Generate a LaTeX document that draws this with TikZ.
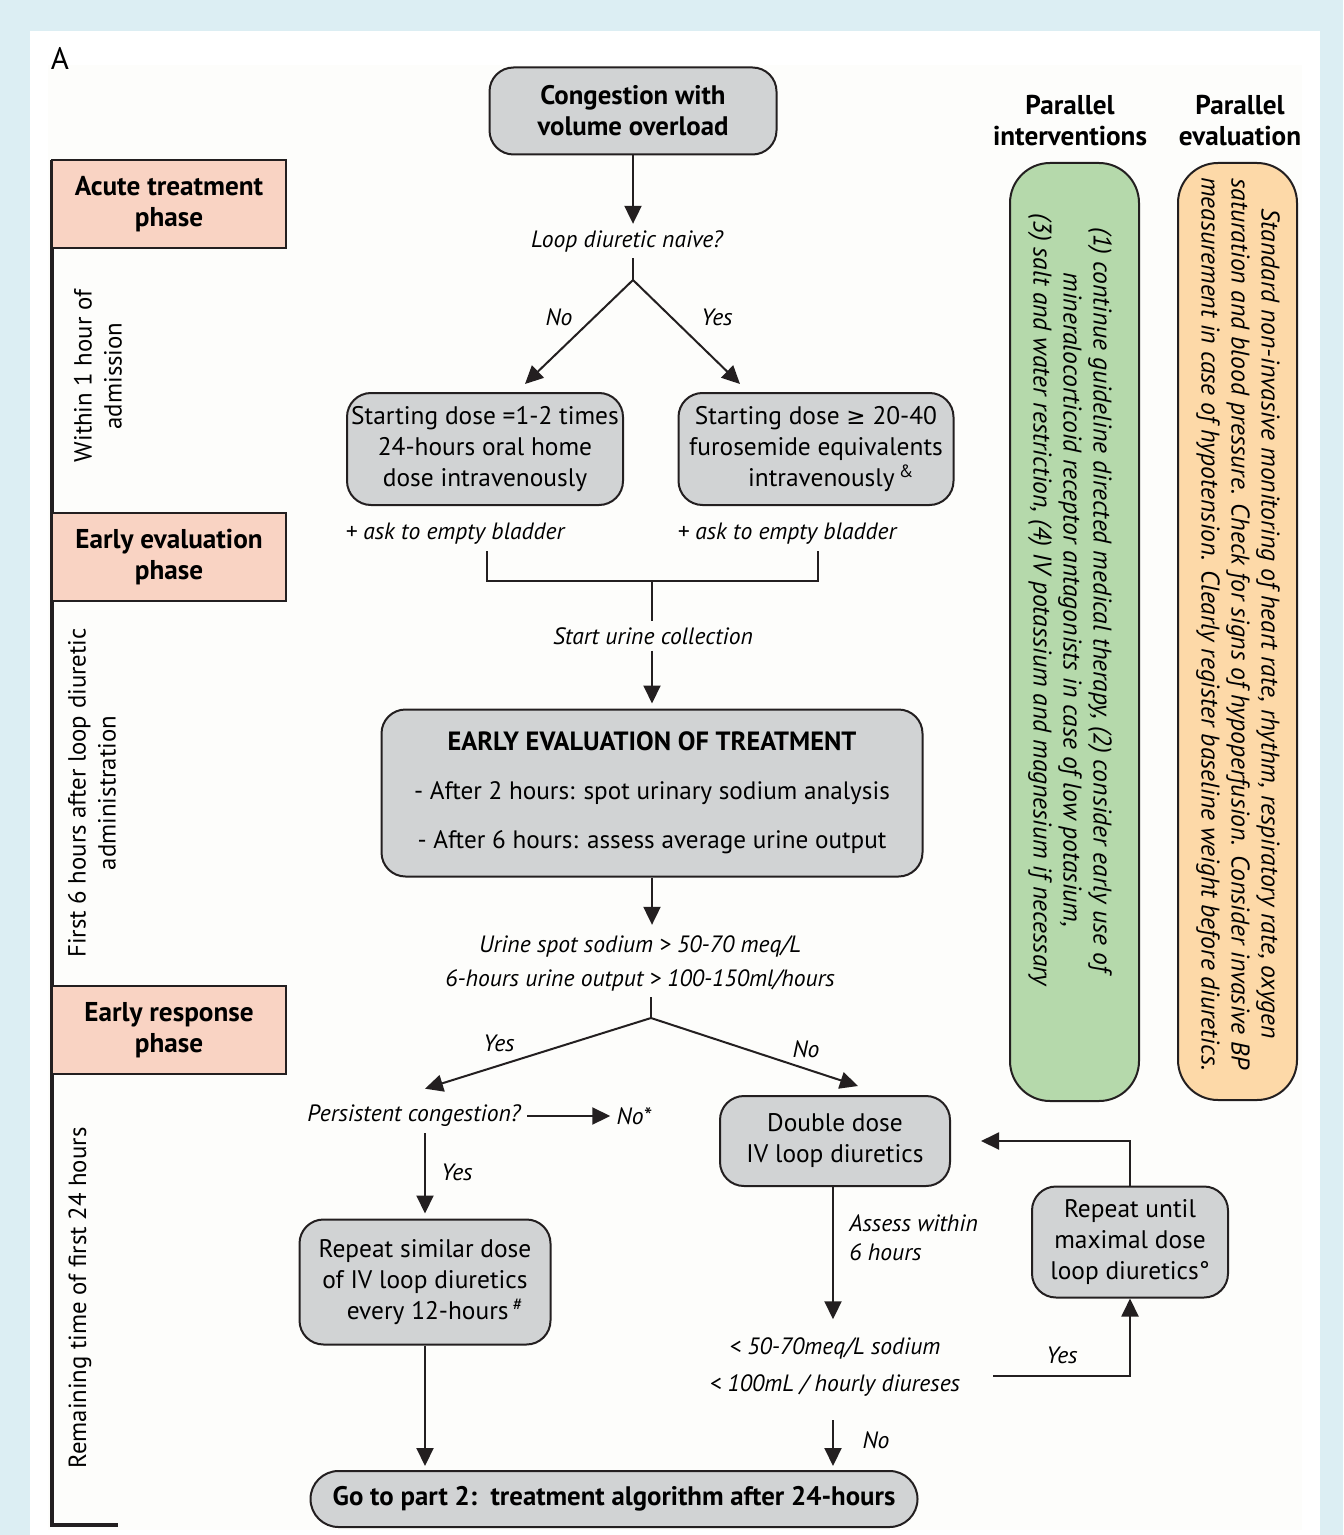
\documentclass[tikz,border=0pt]{standalone}
\usepackage{fontspec}
\setmainfont{PT Sans}
\newfontfamily\symfont{DejaVu Sans}
\usetikzlibrary{arrows.meta}

\definecolor{bgblue}{HTML}{DCEEF3}
\definecolor{offwhite}{HTML}{FDFDFB}
\definecolor{boxgrey}{HTML}{D1D3D4}
\definecolor{phasepink}{HTML}{F9D3C3}
\definecolor{intgreen}{HTML}{B5D9AB}
\definecolor{evalorange}{HTML}{FDD9A8}
\definecolor{ink}{HTML}{231F20}

\tikzset{
  flowbox/.style={draw=ink, line width=1pt, fill=boxgrey, rounded corners=12pt,
    align=center, inner sep=2pt, font=\fontsize{12.7}{15.5}\selectfont},
  phasebox/.style={draw=ink, line width=1pt, fill=phasepink, minimum width=117pt,
    minimum height=44pt, align=center, font=\bfseries\fontsize{13.6}{15.5}\selectfont},
  header/.style={align=center, font=\bfseries\fontsize{13.6}{15.5}\selectfont},
  note/.style={align=center, inner sep=3pt, font=\itshape\fontsize{11.8}{17}\selectfont},
  timelabel/.style={rotate=90, align=center, font=\fontsize{12.4}{15}\selectfont},
  sidebox/.style={draw=ink, line width=1pt, rounded corners=20pt},
  sidetext/.style={rotate=-90, align=center, font=\itshape\fontsize{12.8}{15}\selectfont},
  link/.style={draw=ink, line width=1pt},
  flow/.style={link, -{Triangle[length=9pt,width=8.5pt]}},
}

\begin{document}
\begin{tikzpicture}[x=0.5pt, y=-0.5pt] % one unit = one pixel, y runs down
  \useasboundingbox (0,0) rectangle (1343,1535);

  % Panel
  \fill[bgblue] (0,0) rectangle (1343,1535);
  \fill[white] (30,31) rectangle (1320,1535);
  \fill[offwhite] (48,65) rectangle (1302,1530);
  \node[font=\fontsize{15.5}{18}\selectfont] (panel) at (60,58) {A};

  % Time line and phases
  \draw[ink, line width=2pt] (52,160) -- (52,1525) -- (118,1525);
  \node[phasebox] (acute) at (169,204) {Acute treatment\\phase};
  \node[phasebox] (earlyeval) at (169,557) {Early evaluation\\phase};
  \node[phasebox] (earlyresp) at (169,1030) {Early response\\phase};
  \node[timelabel] (within) at (98,376) {Within 1 hour of\\admission};
  \node[timelabel] (first) at (92,793) {First 6 hours after loop diuretic\\administration};
  \node[timelabel] (remain) at (80,1298) {Remaining time of first 24 hours};

  % Boxes
  \node[flowbox, font=\bfseries\fontsize{13.4}{15.5}\selectfont,
        minimum width=143.5pt, minimum height=43.5pt] (start) at (633,111)
        {Congestion with\\volume overload};
  \node[flowbox, minimum width=138pt, minimum height=56pt] (dosel) at (485,449)
        {Starting dose =1-2 times\\24-hours oral home\\dose intravenously};
  \node[flowbox, minimum width=137.5pt, minimum height=56pt] (doser) at (816,449)
        {Starting dose {\symfont\fontsize{11.5}{15}\selectfont ≥} 20-40\\furosemide equivalents\\\hspace{1.2em}intravenously\,\textsuperscript{\&}};
  \node[flowbox, font=\fontsize{12.6}{24.5}\selectfont,
        minimum width=270.5pt, minimum height=83.5pt] (evalbox) at (652,793)
        {{\bfseries\fontsize{13.2}{24.5}\selectfont EARLY EVALUATION OF TREATMENT}\\- After 2 hours: spot urinary sodium analysis\\- After 6 hours: assess average urine output};
  \node[flowbox, minimum width=125.5pt, minimum height=62.5pt] (repeat) at (425,1282)
        {Repeat similar dose\\of IV loop diuretics\\\hspace{0.8em}every 12-hours\,\textsuperscript{\#}};
  \node[flowbox, minimum width=115pt, minimum height=45pt] (double) at (835,1141)
        {Double dose\\IV loop diuretics};
  \node[flowbox, minimum width=98pt, minimum height=55.5pt] (maxdose) at (1130,1242)
        {Repeat until\\maximal dose\\loop diuretics°};
  \node[flowbox, rounded corners=14pt, font=\bfseries\fontsize{13.4}{15.5}\selectfont,
        minimum width=303.5pt, minimum height=28pt] (goto) at (614,1499)
        {Go to part 2:\ \ treatment algorithm after 24-hours};

  % Questions and notes
  \node[note] (naive) at (627,241) {Loop diuretic naive?};
  \node[note] (bladl) at (455,534) {+ ask to empty bladder};
  \node[note] (bladr) at (787,534) {+ ask to empty bladder};
  \node[note] (collect) at (653,636) {Start urine collection};
  \node[note] (crit) at (640,963) {Urine spot sodium > 50-70 meq/L\\6-hours urine output > 100-150ml/hours};
  \node[note] (persist) at (414,1116) {Persistent congestion?};
  \node[note] (nostar) at (634,1116) {No*};
  \node[note, align=left, font=\itshape\fontsize{11.8}{14.5}\selectfont, anchor=west] (assess)
        at (843,1238) {Assess within\\6 hours};
  \node[note, font=\itshape\fontsize{11.8}{18.5}\selectfont] (lowcrit) at (835,1367)
        {< 50-70meq/L sodium\\< 100mL / hourly diureses};

  % Yes / No labels
  \node[note] (lblno) at (559,317) {No};
  \node[note] (lblyes) at (717,317) {Yes};
  \node[note] (lblyes2) at (499,1043) {Yes};
  \node[note] (lblno2) at (806,1049) {No};
  \node[note] (lblyes3) at (457,1172) {Yes};
  \node[note] (lblyes4) at (1062,1355) {Yes};
  \node[note] (lblno3) at (876,1440) {No};

  % Parallel columns
  \node[header] (hint) at (1070,121) {Parallel\\interventions};
  \node[header] (heval) at (1240,121) {Parallel\\evaluation};
  \node[sidebox, fill=intgreen, minimum width=64.5pt, minimum height=469pt] (interv) at (1074.5,632) {};
  \node[sidetext] (intervtext) at (1070,600)
        {(1) continue guideline directed medical therapy, (2) consider early use of\\
         mineralocorticoid receptor antagonists in case of low potasium,\\
         (3) salt and water restriction, (4) IV potassium and magnesium if necessary};
  \node[sidebox, fill=evalorange, minimum width=59.5pt, minimum height=468.5pt] (monitor) at (1237.5,631.5) {};
  \node[sidetext] (monitortext) at (1238,624)
        {Standard non-invasive monitoring of heart rate, rhythm, respiratory rate, oxygen\\
         saturation and blood pressure. Check for signs of hypoperfusion. Consider invasive BP\\
         measurement in case of hypotension. Clearly register baseline weight before diuretics.};

  % Connectors
  \coordinate (nsplit) at (633,280);
  \coordinate (brl) at (487,581);
  \coordinate (brr) at (818,581);
  \coordinate (brm) at (652,581);
  \coordinate (csplit) at (651,1018);
  \coordinate (lowtie) at (993,1376);
  \coordinate (notop) at (833,1420);

  \draw[flow] (start.south) -- (start.south |- naive.north);
  \draw[link] (start.south |- naive.south) -- (nsplit);
  \draw[flow] (nsplit) -- ([xshift=20pt,yshift=4pt]dosel.north);
  \draw[flow] (nsplit) -- ([xshift=-38pt,yshift=4pt]doser.north);

  \draw[link] (brl |- bladl.south) -- (brl) -- (brr) -- (brr |- bladr.south);
  \draw[link] (brm) -- (brm |- collect.north);
  \draw[flow, shorten >=2.5pt] (evalbox.north |- collect.south) -- (evalbox.north);
  \draw[flow] (evalbox.south) -- ([yshift=2pt]evalbox.south |- crit.north);
  \draw[link] (csplit |- crit.south) -- (csplit);
  \draw[flow] (csplit) -- ([xshift=5.5pt,yshift=5pt]persist.north);
  \draw[flow] (csplit) -- ([xshift=11.5pt,yshift=4.5pt]double.north);

  \draw[flow] (persist) -- (nostar);
  \draw[flow, shorten >=2.5pt] (repeat.north |- persist.south) -- (repeat.north);
  \draw[flow, shorten >=2pt] (repeat.south) -- (repeat.south |- goto.north);

  \draw[flow] ([xshift=-1pt]double.south) -- ([xshift=-1pt,yshift=6pt]double.south |- lowcrit.north);
  \draw[flow] (lowtie) -- (lowtie -| maxdose.south) -- (maxdose.south);
  \draw[flow] (maxdose.north) |- ([xshift=15pt]double.east);
  \draw[flow, shorten >=2pt] (notop) -- (notop |- goto.north);
\end{tikzpicture}
\end{document}
